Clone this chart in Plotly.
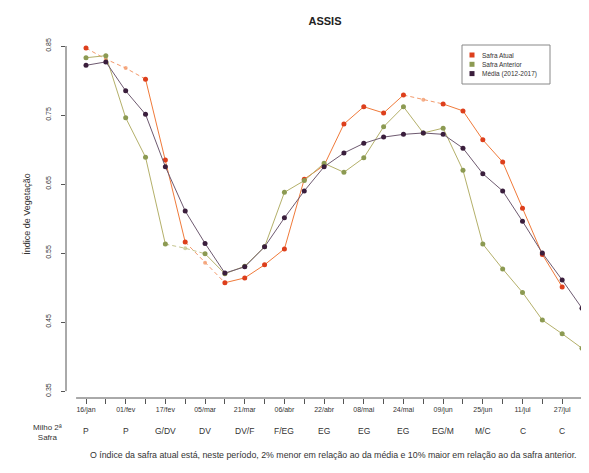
import plotly.graph_objects as go

dates = ["16/jan", "24/jan", "01/fev", "09/fev", "17/fev", "25/fev", "05/mar", "13/mar",
         "21/mar", "29/mar", "06/abr", "14/abr", "22/abr", "30/abr", "08/mai", "16/mai",
         "24/mai", "01/jun", "09/jun", "17/jun", "25/jun", "03/jul", "11/jul", "19/jul",
         "27/jul", "04/ago"]

safra_atual = [0.847, 0.831, 0.818, 0.802, 0.685, 0.566, 0.536, 0.507, 0.514, 0.533,
               0.556, 0.657, 0.677, 0.737, 0.762, 0.753, 0.779, 0.772, 0.766, 0.756,
               0.714, 0.682, 0.615, 0.548, 0.501, None]
safra_anterior = [0.833, 0.836, 0.746, 0.689, 0.563, 0.557, 0.549, 0.520, 0.531, 0.559,
                  0.638, 0.655, 0.680, 0.667, 0.688, 0.733, 0.762, 0.724, 0.731, 0.670,
                  0.563, 0.527, 0.493, 0.453, 0.433, 0.412]
media = [0.822, 0.827, 0.785, 0.751, 0.675, 0.611, 0.564, 0.521, 0.530, 0.559,
         0.601, 0.640, 0.675, 0.695, 0.709, 0.718, 0.722, 0.724, 0.722, 0.702,
         0.665, 0.640, 0.596, 0.550, 0.511, 0.470]

# indices with interpolated (missing) values
atual_missing = [1, 2, 6, 17]
anterior_missing = [5]

fase_labels = ["P", "P", "G/DV", "DV", "DV/F", "F/EG", "EG", "EG", "EG", "EG/M", "M/C", "C", "C"]
y_ticks = [0.35, 0.45, 0.55, 0.65, 0.75, 0.85]

series = [
    ("Safra Atual", safra_atual, atual_missing, "#F07A3A", "#DD3F1C", "#F39A6C"),
    ("Safra Anterior", safra_anterior, anterior_missing, "#B4B06A", "#8C9A52", "#C4C48C"),
    ("Média (2012-2017)", media, [], "#6E5A70", "#3A1E3C", "#B0A0B0"),
]

# page body adds an 8px offset; layout is laid out in screen pixels
OFF = 8
SW, SH = 589, 473
PL, PR, PT, PB = 66, 585, 36, 398  # plot area on screen
W, H = SW - OFF, SH - OFF
PW, PH = PR - PL, PB - PT


def px(x):
    return (x - PL) / PW


def py(y):
    return (PB - y) / PH


fig = go.Figure()
font = "Liberation Sans, Arial, sans-serif"

for name, vals, missing, lc, mc, pale in series:
    solid = [None if i in missing else v for i, v in enumerate(vals)]
    dash_idx = set()
    for m in missing:
        dash_idx.update([m - 1, m, m + 1])
    dashed = [v if i in dash_idx else None for i, v in enumerate(vals)]
    fig.add_trace(go.Scatter(x=dates, y=dashed, mode="lines", showlegend=False, cliponaxis=False,
                             line=dict(color=pale, width=1, dash="4px,3px"), hoverinfo="skip"))
    fig.add_trace(go.Scatter(x=dates, y=solid, mode="lines+markers", showlegend=False,
                             cliponaxis=False, name=name,
                             line=dict(color=lc, width=1),
                             marker=dict(color=mc, size=5)))
    if missing:
        fig.add_trace(go.Scatter(x=[dates[i] for i in missing], y=[vals[i] for i in missing],
                                 mode="markers", showlegend=False, cliponaxis=False,
                                 marker=dict(color=pale, size=4, opacity=0.8)))

# R-style axis lines
fig.add_shape(type="line", xref="paper", yref="y", x0=0, x1=0, y0=0.35, y1=0.85,
              line=dict(color="#555555", width=1))
fig.add_shape(type="line", xref="x", yref="paper", x0=-0.5, x1=25, y0=0, y1=0,
              line=dict(color="#555555", width=1))

annotations = []

# manual legend box (R style)
fig.add_shape(type="rect", xref="paper", yref="paper", x0=px(462), x1=px(550),
              y0=py(84), y1=py(45), line=dict(color="#888888", width=1), fillcolor="white")
for k, (name, vals, missing, lc, mc, pale) in enumerate(series):
    yc = 55 + k * 9.3
    fig.add_shape(type="rect", xref="paper", yref="paper", x0=px(469.5), x1=px(474.5),
                  y0=py(yc + 2.5), y1=py(yc - 2.5), line=dict(width=0), fillcolor=mc)
    annotations.append(dict(x=px(480), y=py(yc), xref="paper", yref="paper", xanchor="left",
                            yanchor="middle", text=name, showarrow=False,
                            font=dict(size=6.5, color="#333333")))

for i, lab in enumerate(fase_labels):
    annotations.append(dict(x=dates[2 * i], y=py(438), xref="x", yref="paper", text=lab,
                            xanchor="center", showarrow=False,
                            font=dict(size=8.5, color="#333333")))
annotations.append(dict(x=px(47), xref="paper", xanchor="center", y=py(444), yref="paper",
                        text="Milho 2ª<br>Safra", showarrow=False, align="center",
                        font=dict(size=8, color="#333333")))
annotations.append(dict(x=px(333), xref="paper", xanchor="center", y=py(462), yref="paper",
                        text="O índice da safra atual está, neste período, 2% menor em relação ao da média e 10% maior em relação ao da safra anterior.",
                        showarrow=False, font=dict(size=8.8, color="#333333")))
annotations.append(dict(x=px(27), xref="paper", xanchor="center", y=0.607, yref="y",
                        yanchor="middle", textangle=-90,
                        text="Índice de Vegetação", showarrow=False,
                        font=dict(size=9, color="#333333")))

fig.update_layout(
    width=W, height=H,
    margin=dict(l=PL - OFF, r=SW - PR, t=PT - OFF, b=SH - PB, autoexpand=False),
    paper_bgcolor="white", plot_bgcolor="white",
    font=dict(family=font, color="#333333"),
    title=dict(text="<b>ASSIS</b>", x=px(325), xref="paper", xanchor="center",
               y=1 - (21 - OFF) / H, yanchor="middle",
               font=dict(size=11, color="#222222")),
    annotations=annotations,
    showlegend=False,
)
fig.update_xaxes(type="category", range=[-1.008, 25.15], showgrid=False, zeroline=False,
                 showline=False, tickmode="array", tickvals=dates, automargin=False,
                 ticktext=[d if i % 2 == 0 else "" for i, d in enumerate(dates)],
                 ticks="outside", ticklen=5, tickcolor="#555555", tickangle=0,
                 tickfont=dict(size=7, color="#333333"))
fig.update_yaxes(range=[0.34, 0.8645], showgrid=False, zeroline=False, showline=False,
                 tickmode="array", tickvals=y_ticks, automargin=False,
                 ticktext=[f"{t:.2f}" for t in y_ticks], ticklabelstandoff=7,
                 ticks="outside", ticklen=4, tickcolor="#555555", tickangle=-90,
                 tickfont=dict(size=7, color="#333333"))

fig.write_html("out.html")
